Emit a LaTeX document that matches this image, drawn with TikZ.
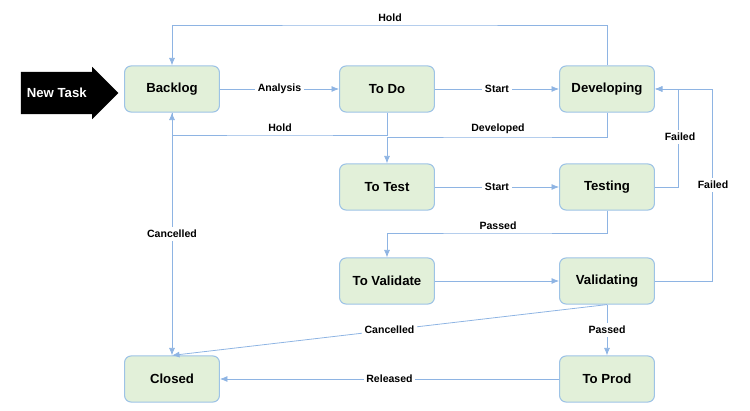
\documentclass[tikz,border=0pt]{standalone}
\usepackage{fontspec}
\setmainfont{Liberation Sans}
\usetikzlibrary{positioning, arrows.meta, shapes.arrows}
\definecolor{colour_box}{HTML}{E2F0D9}
\definecolor{colour_edge}{HTML}{9DC3E6}
\definecolor{colour_line}{HTML}{8EB4E3}

\begin{document}
\begin{tikzpicture}[
    x=0.02667cm, y=-0.02667cm,
    font=\bfseries,
    state/.style={rectangle, draw=colour_edge, fill=colour_box, thick, rounded corners=5pt,
                  minimum height=1.23cm, minimum width=2.53cm, align=center, font=\normalsize\bfseries},
    arrow/.style={-{Latex[length=2mm, width=1.6mm]}, semithick, colour_line},
    lbl/.style={font=\footnotesize\bfseries, text=black, fill=white, inner sep=2pt}
]
\useasboundingbox (0,0) rectangle (750,411);

% States
\node[state] (backlog) at (172,89) {Backlog};
\node[state] (todo) at (387,89) {To Do};
\node[state] (dev) at (607,89) {Developing};
\node[state] (totest) at (387,187) {To Test};
\node[state] (testing) at (607,187) {Testing};
\node[state] (toval) at (387,281) {To Validate};
\node[state] (val) at (607,281) {Validating};
\node[state] (closed) at (172,379) {Closed};
\node[state] (toprod) at (607,379) {To Prod};

% Entry
\node[single arrow, fill=black, text=white, minimum height=2.6cm, minimum width=1.4cm,
      single arrow head extend=0.05cm, inner sep=2pt, font=\normalsize\bfseries] (new) at (59,93) {New Task\,\,};

% Transitions
\draw[arrow] (backlog) -- node[lbl] {Analysis} (todo);
\draw[arrow] (todo) -- node[lbl] {Start} (dev);
\draw[arrow] (dev.north) |- (390,25) node[lbl, above=0pt, fill=none] {Hold} -| (backlog.north);
\draw[arrow] (todo.south) |- (280,135) node[lbl, above=0pt, fill=none] {Hold} -| (backlog.south);
\draw[arrow] (dev.south) |- (498,137) node[lbl, above=0pt, fill=none] {Developed} -| (totest.north);
\draw[arrow] (totest) -- node[lbl] {Start} (testing);
\draw[arrow] (testing.east) -| (678,89) -- (dev.east);
\node[lbl] at (680,137) {Failed};
\draw[arrow] (testing.south) |- (498,233) node[lbl, above=0pt, fill=none] {Passed} -| (toval.north);
\draw[arrow] (toval) -- (val);
\draw[arrow] (val.east) -| (712,89) -- (dev.east);
\node[lbl] at (713,185) {Failed};
\draw[arrow] (val.south) -- node[lbl, pos=0.5] {Passed} (toprod.north);
\draw[arrow] (val.south) -- node[lbl, pos=0.5] {Cancelled} (closed.north);
\draw[arrow] (backlog.south) -- node[lbl] {Cancelled} (closed.north);
\draw[arrow] (toprod) -- node[lbl] {Released} (closed);

\end{tikzpicture}
\end{document}
